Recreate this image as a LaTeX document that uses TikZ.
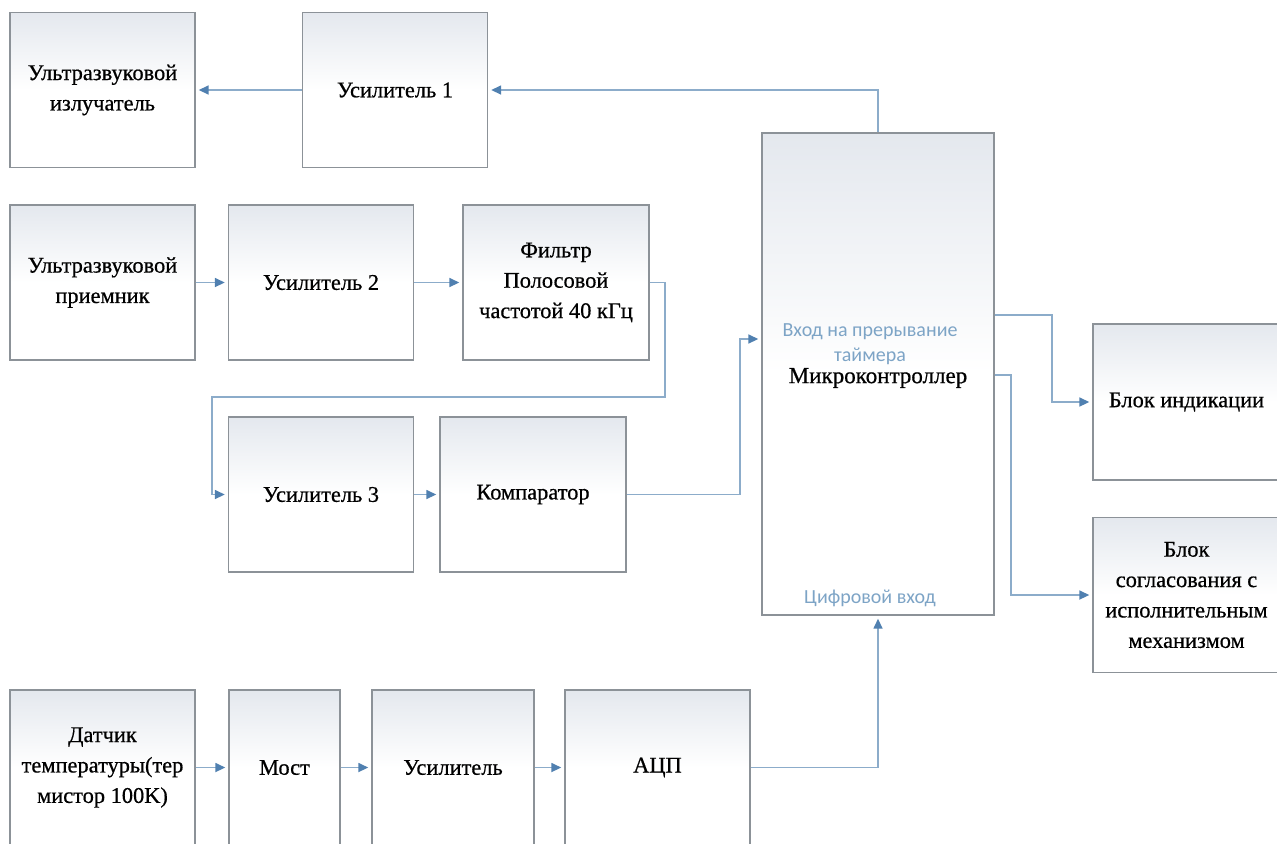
\documentclass[tikz,border=0pt]{standalone}
\usepackage{fontspec}
\setmainfont[FakeBold=0.6]{Liberation Serif}
\newfontfamily\lblfont{Carlito}
\usetikzlibrary{arrows.meta}
\definecolor{boxline}{RGB}{140,146,152}
\definecolor{boxtop}{RGB}{228,232,238}
\definecolor{wire}{RGB}{140,172,202}
\definecolor{tipblue}{RGB}{80,128,176}
\definecolor{lblblue}{RGB}{125,164,198}
\begin{document}
\begin{tikzpicture}[x=0.5pt, y=-0.5pt, every node/.style={font=\fontsize{11.2}{15.2}\selectfont},
  blk/.style={draw=boxline, line width=0.7pt, top color=boxtop, bottom color=white, middle color=white,
    align=center, minimum width=92.5pt, minimum height=77.5pt, inner sep=2pt},
  wr/.style={draw=wire, line width=0.8pt, -{Triangle[length=5pt, width=4.5pt, color=tipblue]}, shorten >=1.5pt},
  vhod/.style={font=\lblfont\fontsize{10}{12.5}\selectfont, text=lblblue, align=center}]
  \path[use as bounding box, fill=white] (0,0) rectangle (1277,843);
  % Ultrasonic part
  \node[blk] (izl) at (102.5,90) {Ультразвуковой\\излучатель};
  \node[blk] (us1) at (395,90) {Усилитель 1};
  \node[blk] (pri) at (102.5,282.5) {Ультразвуковой\\приемник};
  \node[blk] (us2) at (321,282.5) {Усилитель 2};
  \node[blk, minimum width=93pt] (filt) at (556,282.5) {Фильтр\\Полосовой\\частотой 40 кГц};
  \node[blk] (us3) at (321,494.5) {Усилитель 3};
  \node[blk, minimum width=93pt] (komp) at (533,494.5) {Компаратор};
  % Microcontroller
  \node[blk, minimum width=116pt, minimum height=241pt] (mk) at (878,374) {};
  \node[vhod] (vh) at (870,344) {Вход на прерывание\\таймера};
  \node[font=\fontsize{11.5}{14}\selectfont] (mkt) at (878,378) {Микроконтроллер};
  \node[vhod] (cv) at (870,598) {Цифровой вход};
  \node[blk, minimum width=93.5pt, minimum height=78pt] (ind) at (1186.5,402) {Блок индикации};
  \node[blk, minimum width=93.5pt] (sogl) at (1186.5,595) {Блок\\согласования с\\исполнительным\\механизмом};
  % Temperature part
  \node[blk] (dat) at (102.5,767.5) {Датчик\\температуры(тер\\мистор 100K)};
  \node[blk, minimum width=55.5pt] (most) at (284.5,767.5) {Мост};
  \node[blk, minimum width=81pt] (usil) at (453,767.5) {Усилитель};
  \node[blk] (acp) at (657.5,767.5) {АЦП};
  % Connections
  \coordinate (f1) at (665,397);
  \coordinate (f2) at (212,397);
  \coordinate (k1) at (740,339);
  \coordinate (m1) at (1052,315);
  \coordinate (m2) at (1011,375);
  \draw[wr] (mk.north) |- (us1.east);
  \draw[wr] (us1) -- (izl);
  \draw[wr] (pri) -- (us2);
  \draw[wr] (us2) -- (filt);
  \draw[wr] (filt.east) -| (f1) -- (f2) |- (us3.west);
  \draw[wr] (us3) -- (komp);
  \draw[wr] (komp.east) -| (k1) -- (k1 -| mk.west);
  \draw[wr] (m1 -| mk.east) -- (m1) |- (ind.west);
  \draw[wr] (m2 -| mk.east) -- (m2) |- (sogl.west);
  \foreach \a/\b in {dat/most, most/usil, usil/acp} {
    \draw[wr] (\a) -- (\b);
  }
  \draw[wr] (acp.east) -| (mk.south);
\end{tikzpicture}
\end{document}
